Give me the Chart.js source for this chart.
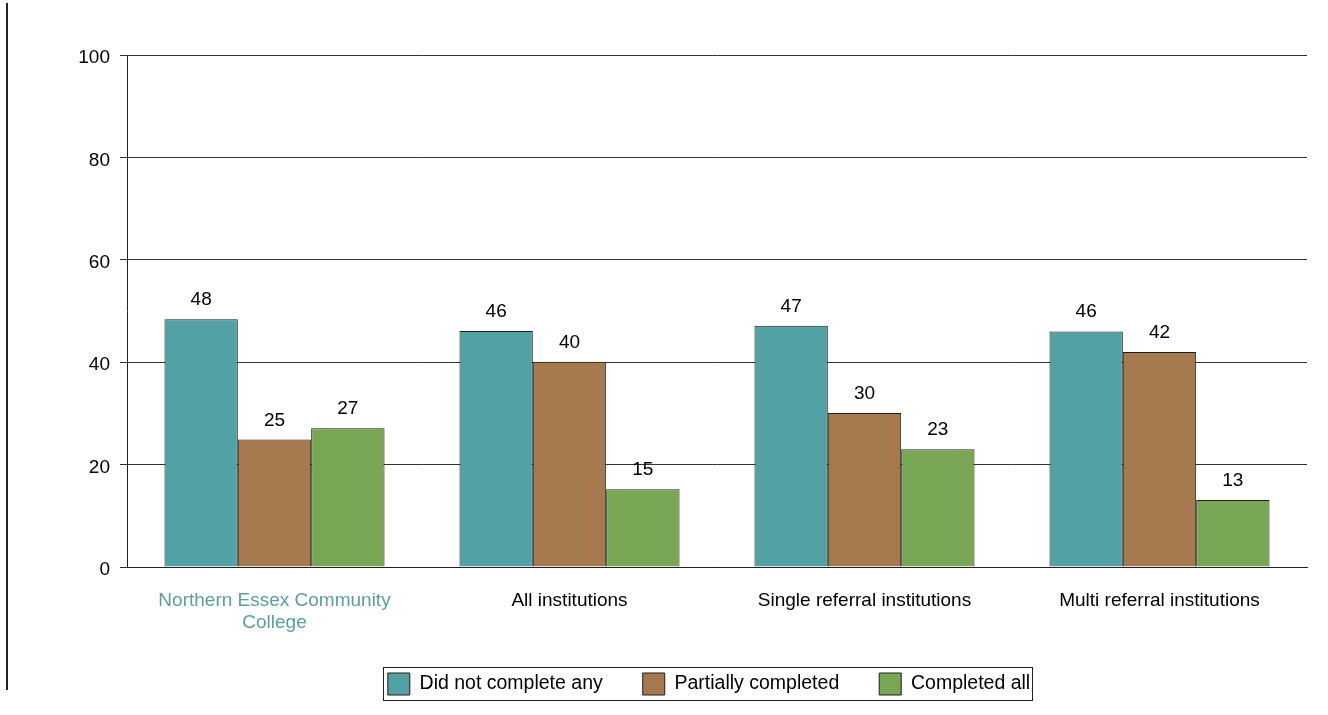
<!DOCTYPE html>
<html>
<head>
<meta charset="utf-8">
<script src="https://cdn.jsdelivr.net/npm/chart.js@4.4.1/dist/chart.umd.min.js"></script>
<style>
  html, body { margin: 0; padding: 0; background: #fff; }
  #wrap { width: 1328px; height: 715px; position: relative; }
</style>
</head>
<body>
<div id="wrap"><canvas id="chart"></canvas></div>
<script>
// data
var categories = [['Northern Essex Community', 'College'], 'All institutions', 'Single referral institutions', 'Multi referral institutions'];
var seriesNames = ['Did not complete any', 'Partially completed', 'Completed all'];
var didNotComplete = [48.4, 46.1, 47.1, 46.0];
var partiallyCompleted = [24.9, 40.1, 30.1, 42.0];
var completedAll = [27.1, 15.2, 23.0, 13.1];
var yTicks = [0, 20, 40, 60, 80, 100];

var colors = ['#52a2a5', '#a57a4f', '#79a655'];
var fontFamily = '"Liberation Sans", Arial, sans-serif';

// value labels above bars
var barLabels = {
    id: 'barLabels',
    afterDatasetsDraw: function (chart) {
        var ctx = chart.ctx;
        ctx.save();
        ctx.font = '19px ' + fontFamily;
        ctx.fillStyle = '#000';
        ctx.textAlign = 'center';
        ctx.textBaseline = 'alphabetic';
        chart.data.datasets.forEach(function (ds, i) {
            chart.getDatasetMeta(i).data.forEach(function (bar, j) {
                ctx.fillText(Math.round(ds.data[j]), bar.x, bar.y - 14);
            });
        });
        ctx.restore();
    }
};

// box round the legend and the thin rule on the left edge
var frame = {
    id: 'frame',
    afterDraw: function (chart) {
        var ctx = chart.ctx;
        var boxes = chart.legend.legendHitBoxes;
        var first = boxes[0], last = boxes[boxes.length - 1];
        ctx.save();
        ctx.strokeStyle = '#222';
        ctx.lineWidth = 1;
        ctx.strokeRect(Math.round(first.left - 5) + 0.5, Math.round(first.top - 6) + 0.5,
            Math.round(last.left + last.width - first.left + 7), 33);
        ctx.beginPath();
        ctx.lineWidth = 2;
        ctx.moveTo(7, 3);
        ctx.lineTo(7, 690);
        ctx.stroke();
        ctx.restore();
    }
};

new Chart(document.getElementById('chart'), {
    type: 'bar',
    data: {
        labels: categories,
        datasets: [{
            label: seriesNames[0],
            data: didNotComplete,
            backgroundColor: colors[0],
            borderColor: '#1e1e1e',
            borderWidth: 1
        }, {
            label: seriesNames[1],
            data: partiallyCompleted,
            backgroundColor: colors[1],
            borderColor: '#1e1e1e',
            borderWidth: 1
        }, {
            label: seriesNames[2],
            data: completedAll,
            backgroundColor: colors[2],
            borderColor: '#1e1e1e',
            borderWidth: 1
        }]
    },
    options: {
        responsive: true,
        maintainAspectRatio: false,
        animation: false,
        datasets: {
            bar: { categoryPercentage: 0.746, barPercentage: 1 }
        },
        layout: {
            padding: { top: 55, left: 70, right: -20, bottom: 10 }
        },
        plugins: {
            tooltip: { enabled: false },
            legend: {
                position: 'bottom',
                labels: {
                    boxWidth: 22,
                    boxHeight: 22,
                    padding: 40,
                    color: '#000',
                    font: { family: fontFamily, size: 19.5 }
                }
            }
        },
        scales: {
            x: {
                grid: { display: false, drawTicks: false },
                border: { display: true, color: '#222', width: 1 },
                ticks: {
                    padding: 22,
                    maxRotation: 0,
                    autoSkip: false,
                    font: { family: fontFamily, size: 19 },
                    color: function (c) { return c.index === 0 ? '#5b9fa2' : '#000'; }
                },
                afterFit: function (scale) { scale.height = 66; }
            },
            y: {
                min: 0,
                max: 100,
                afterBuildTicks: function (scale) {
                    scale.ticks = yTicks.map(function (v) { return { value: v }; });
                },
                grid: { color: '#333', lineWidth: 1, tickLength: 7, drawTicks: true },
                border: { display: true, color: '#222', width: 1 },
                ticks: {
                    padding: 10,
                    labelOffset: 3,
                    color: '#000',
                    font: { family: fontFamily, size: 19 }
                },
                afterFit: function (scale) { scale.width = 57; }
            },
            yRight: {
                position: 'right',
                display: true,
                grid: { display: false, drawTicks: false },
                border: { display: false },
                ticks: { display: false },
                afterFit: function (scale) { scale.width = 41; }
            }
        }
    },
    plugins: [barLabels, frame]
});
</script>
</body>
</html>
